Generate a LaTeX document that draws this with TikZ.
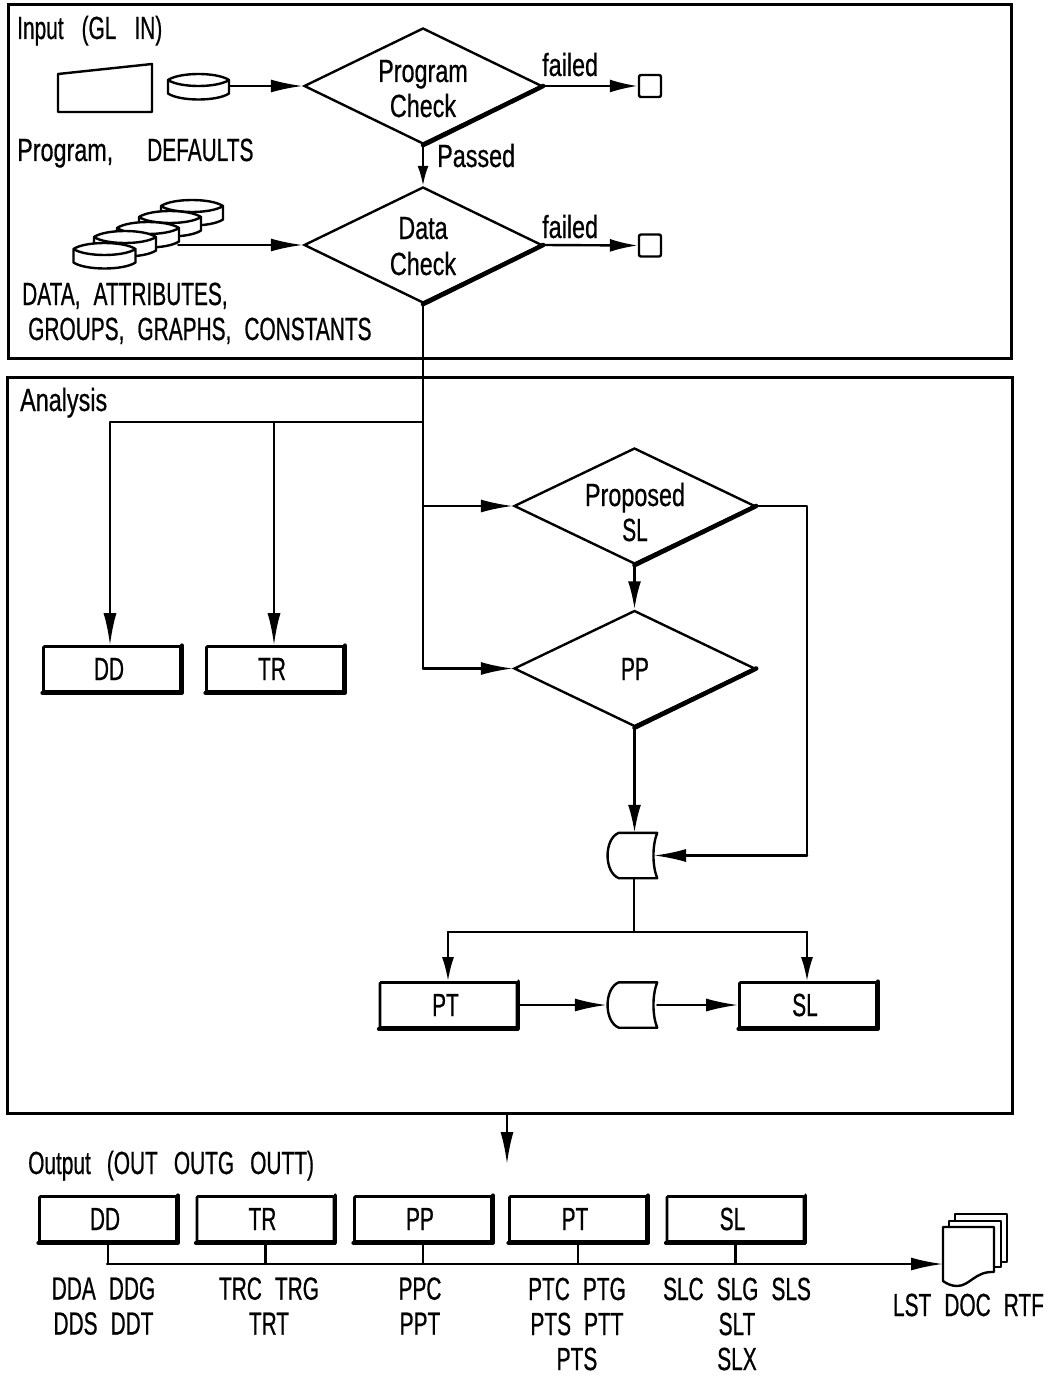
\documentclass[tikz,border=0pt]{standalone}
\usepackage{fontspec}
\setmainfont[FakeStretch=0.652,WordSpace=2.25,FakeBold=0.6]{Liberation Sans}
\newfontfamily\lcfont[FakeStretch=0.73,WordSpace=2.25,FakeBold=0.6]{Liberation Sans}
\usetikzlibrary{shapes.geometric,arrows.meta,calc}
\tikzset{
  ln/.style={line width=2.4pt,line cap=round,line join=round,black},
  arr/.style={ln,-{Latex[length=32pt,width=13pt]}},
  sarr/.style={ln,-{Latex[length=20pt,width=11pt]}},
  marr/.style={ln,-{Latex[length=28pt,width=13pt]}},
  dharr/.style={ln,-{Latex[length=24pt,width=12pt]}},
  frame/.style={draw,line width=3pt,fill=none},
  dia/.style={diamond,draw,line width=2.4pt,aspect=2.03,inner sep=0pt,minimum width=#1,minimum height=116pt},
  dia/.default=238pt,
  bx/.style={draw,line width=2.6pt,rounded corners=1pt,minimum width=137pt,minimum height=45pt,inner sep=0pt,font=\fontsize{32}{34}\selectfont},
  lab/.style={inner sep=0pt,anchor=base west,font=\fontsize{32}{36}\selectfont},
  dlab/.style={inner sep=0pt,anchor=base,font=\fontsize{32}{36}\selectfont},
  clab/.style={inner sep=0pt,align=center,font=\fontsize{32}{35}\selectfont},
  ghost/.style={inner sep=0pt,minimum width=#1,minimum height=45pt},
  endbox/.style={draw,line width=2.4pt,rounded corners=2pt,minimum size=22pt,inner sep=0pt},
}
\newcommand{\heavy}[1]{\draw[line width=4.5pt,line cap=round] (#1.south) -- (#1.east);}
\newcommand{\shadowbox}[1]{\draw[line width=3.6pt,line cap=round,line join=round] (#1.north east) -- (#1.south east) -- (#1.south west);}
\newcommand{\bxt}[1]{#1\kern6pt}
\newcommand{\gate}[1]{\draw[ln,fill=white] ($(#1.north west)+(12,0)$) -- (#1.north east) .. controls ($(#1.east)+(-5,-10)$) and ($(#1.east)+(-5,10)$) .. (#1.south east) -- ($(#1.south west)+(12,0)$) .. controls ($(#1.south west)+(-3,-6)$) and ($(#1.north west)+(-3,6)$) .. ($(#1.north west)+(12,0)$) -- cycle;}
\newcommand{\drum}[3]{%
  \fill[white] (#1-#3,#2) -- (#1-#3,#2+13.5) .. controls (#1-#3+12,#2+21.5) and (#1+#3-12,#2+21.5) .. (#1+#3,#2+13.5) -- (#1+#3,#2) .. controls (#1+#3-12,#2-8) and (#1-#3+12,#2-8) .. (#1-#3,#2) -- cycle;
  \draw[ln] (#1-#3,#2) -- (#1-#3,#2+13.5) .. controls (#1-#3+12,#2+21.5) and (#1+#3-12,#2+21.5) .. (#1+#3,#2+13.5) -- (#1+#3,#2) .. controls (#1+#3-12,#2-8) and (#1-#3+12,#2-8) .. (#1-#3,#2) .. controls (#1-#3+12,#2+8) and (#1+#3-12,#2+8) .. (#1+#3,#2);}
\begin{document}
\begin{tikzpicture}[x=1pt,y=-1pt]
\useasboundingbox (0,0) rectangle (1048,1375);
% frames
\draw[frame] (8,5) rectangle (1011,358);
\draw[frame] (7,377) rectangle (1012,1113);
\node[lab] (tinput) at (17,39) {Input\hspace{5pt} (GL\hspace{5pt} IN)};
\node[lab] (tanalysis) at (20,411) {\lcfont Analysis};
\node[lab] (toutput) at (28,1174) {Output\hspace{3pt} (OUT\hspace{3pt} OUTG\hspace{3pt} OUTT)};
% input symbols
\node[ghost=94pt] (prog) at (105,88) {};
\draw[ln] (58,74) -- (152,64) -- (152,112) -- (58,112) -- cycle;
\drum{198.5}{80}{30.5}
\node[ghost=61pt,minimum height=20pt] (defcyl) at (198.5,86) {};
\node[lab] (tprog) at (17,161) {\lcfont Program,};
\node[lab] (tdef) at (147,161) {DEFAULTS};
\drum{192}{206}{31}
\drum{170}{217}{31}
\drum{148}{228}{31}
\drum{125}{237}{31}
\drum{104.5}{249}{31}
\node[ghost=40pt,minimum height=10pt] (stack) at (158,245) {};
\node[lab] (tdata) at (22,305) {DATA, ATTRIBUTES,};
\node[lab] (tgroups) at (28,340) {GROUPS, GRAPHS, CONSTANTS};
% diamonds
\node[dia] (d1) at (423,86) {};
\node[dia] (d2) at (423,245) {};
\node[dia=241pt] (d3) at (634.5,506) {};
\node[dia=241pt] (d4) at (634.5,668.5) {};
\heavy{d1}\heavy{d2}\heavy{d3}\heavy{d4}
\node[dlab] (t1a) at (423,82) {\lcfont Program};
\node[dlab] (t1b) at (423,117) {\lcfont Check};
\node[dlab] (t2a) at (423,239) {\lcfont Data};
\node[dlab] (t2b) at (423,275) {\lcfont Check};
\node[dlab] (t3a) at (635,506) {\lcfont Proposed};
\node[dlab] (t3b) at (635,541) {SL};
\node[dlab] (t4) at (635,680) {PP};
% failed
\node[endbox] (f1) at (650,86) {};
\node[endbox] (f2) at (650,245.5) {};
\draw[marr] (d1.east) -- (f1.west);
\draw[marr] (d2.east) -- (f2.west);
\node[lab] (tf1) at (542,76) {\lcfont failed};
\node[lab] (tf2) at (542,238) {\lcfont failed};
\node[lab] (tpassed) at (437,167) {\lcfont Passed};
\draw[sarr] (d1.south) -- (d2.north);
\draw[arr] (defcyl.east) -- (d1.west);
\draw[arr] (stack.east) -- (d2.west);
% analysis boxes
\node[bx] (dd) at (112,669) {\bxt{DD}};
\node[bx] (tr) at (275,669) {\bxt{TR}};
\node[bx] (pt) at (448.5,1005) {\bxt{PT}};
\node[bx] (sl) at (808,1005) {\bxt{SL}};
\shadowbox{dd}\shadowbox{tr}\shadowbox{pt}\shadowbox{sl}
\node[ghost=50pt] (g1) at (632,855.5) {};
\node[ghost=50pt] (g2) at (632,1005) {};
\gate{g1}\gate{g2}
% connectors
\coordinate (j1) at (423,422);
\coordinate (j2) at (423,506);
\coordinate (j3) at (423,668.5);
\coordinate (j4) at (110,422);
\coordinate (j5) at (274,422);
\coordinate (j6) at (807,506);
\coordinate (j7) at (807,855.5);
\coordinate (j8) at (634,932);
\coordinate (j9) at (448,932);
\coordinate (j10) at (807,932);
\coordinate (gin) at (654,855.5);
\draw[ln] (d2.south) -- (j3);
\draw[arr] (j3) -- (d4.west);
\draw[arr] (j2) -- (d3.west);
\draw[arr] (j1) -- (j4) -- (j4 |- dd.north);
\draw[arr] (j5) -- (j5 |- tr.north);
\draw[marr] (d3.south) -- (d4.north);
\draw[marr] (d4.south) -- (d4.south |- g1.north);
\draw[ln] (d3.east) -- (j6) -- (j7);
\draw[arr] (j7) -- (gin);
\draw[ln] (j8 |- g1.south) -- (j8);
\draw[ln] (j9) -- (j10);
\draw[dharr] (j9) -- (j9 |- pt.north);
\draw[dharr] (j10) -- (j10 |- sl.north);
\draw[arr] (pt.east) -- (g2.west);
\draw[arr] (g2.east) -- (sl.west);
% output
\coordinate (o1) at (507,1113);
\coordinate (o2) at (507,1164);
\draw[arr] (o1) -- (o2);
\node[bx] (odd) at (108,1219) {\bxt{DD}};
\node[bx] (otr) at (265.5,1219) {\bxt{TR}};
\node[bx] (opp) at (423,1219) {\bxt{PP}};
\node[bx] (opt) at (578,1219) {\bxt{PT}};
\node[bx] (osl) at (735.5,1219) {\bxt{SL}};
\shadowbox{odd}\shadowbox{otr}\shadowbox{opp}\shadowbox{opt}\shadowbox{osl}
\coordinate (bus) at (107,1264);
\coordinate (docin) at (943,1264);
\draw[arr] (bus) -- (docin);
\draw[ln] (odd.south) -- (odd.south |- bus);
\draw[ln] (otr.south) -- (otr.south |- bus);
\draw[ln] (opp.south) -- (opp.south |- bus);
\draw[ln] (opt.south) -- (opt.south |- bus);
\draw[ln] (osl.south) -- (osl.south |- bus);
% documents
\draw[ln] (955,1221) -- (955,1214) -- (1007,1214) -- (1007,1262) -- (1001,1262);
\draw[ln] (949,1227) -- (949,1221) -- (1001,1221) -- (1001,1267) -- (994,1267);
\draw[ln,fill=white] (943,1227) -- (994,1227) -- (994,1272) .. controls (975,1271) and (970,1286) .. (957,1286) .. controls (952,1286) and (947,1284) .. (943,1281) -- cycle;
% labels
\node[clab] (l1) at (103.5,1306) {DDA DDG\\DDS DDT};
\node[clab] (l2) at (269,1306) {TRC TRG\\TRT};
\node[clab] (l3) at (420,1306) {PPC\\PPT};
\node[clab] (l4) at (577,1324) {PTC PTG\\PTS PTT\\PTS};
\node[clab] (l5) at (737,1324) {SLC SLG SLS\\SLT\\SLX};
\node[clab] (l6) at (968.5,1305) {LST DOC RTF};
\end{tikzpicture}
\end{document}
